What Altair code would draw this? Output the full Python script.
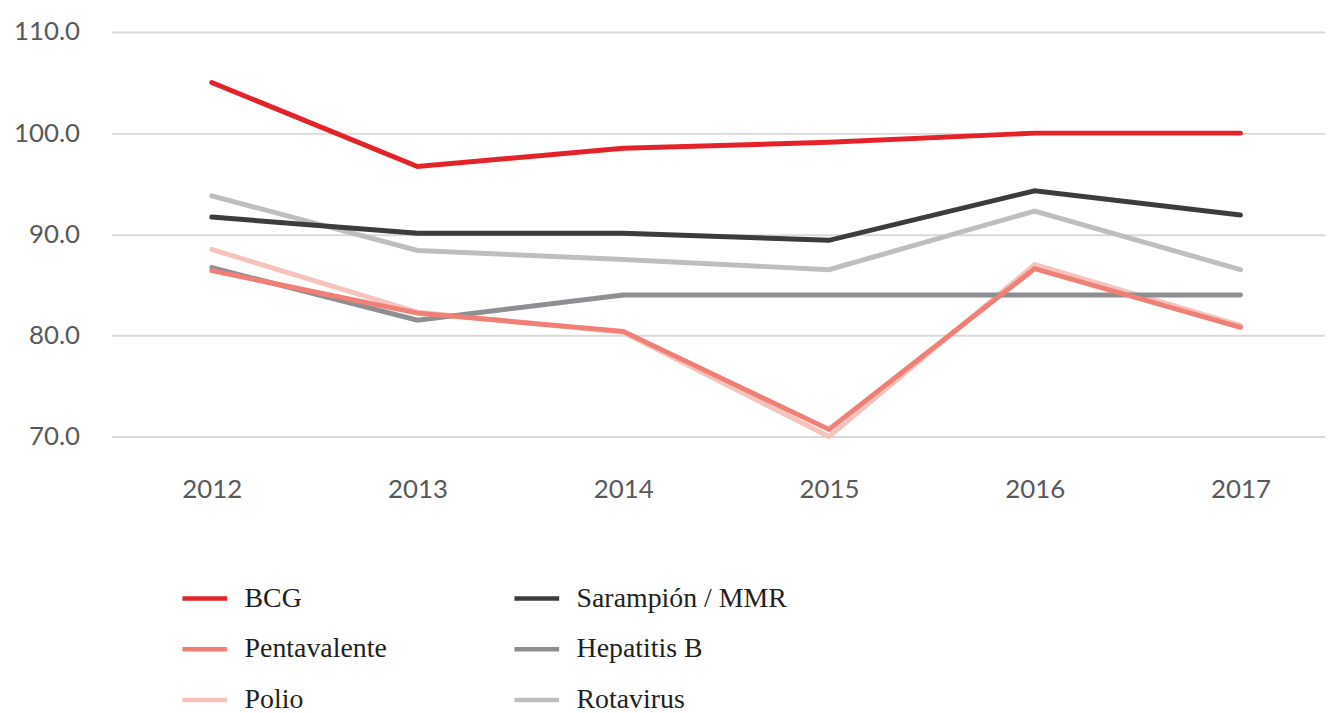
import altair as alt
import pandas as pd

years = [2012, 2013, 2014, 2015, 2016, 2017]
# legend fills column by column: first column BCG, Pentavalente, Polio
series_order = ["BCG", "Pentavalente", "Polio", "Sarampión / MMR", "Hepatitis B", "Rotavirus"]
colors = ["#E52229", "#F07F76", "#F6C2BC", "#3C3C3E", "#8E8E93", "#BEBEBE"]
draw_order = ["Rotavirus", "Polio", "Hepatitis B", "Sarampión / MMR", "BCG", "Pentavalente"]

bcg = [105.0, 96.7, 98.5, 99.1, 100.0, 100.0]
sarampion = [91.7, 90.1, 90.1, 89.4, 94.3, 91.9]
pentavalente = [86.4, 82.2, 80.4, 70.7, 86.6, 80.8]
hepatitis_b = [86.7, 81.5, 84.0, 84.0, 84.0, 84.0]
polio = [88.5, 82.3, 80.3, 70.0, 87.0, 81.0]
rotavirus = [93.8, 88.4, 87.5, 86.5, 92.3, 86.5]

values = {
    "BCG": bcg,
    "Sarampión / MMR": sarampion,
    "Pentavalente": pentavalente,
    "Hepatitis B": hepatitis_b,
    "Polio": polio,
    "Rotavirus": rotavirus,
}

rows = []
for i, s in enumerate(draw_order):
    for y, v in zip(years, values[s]):
        rows.append({"serie": s, "year": y, "value": v, "ord": i})
df = pd.DataFrame(rows)

chart = alt.Chart(df).mark_line(strokeWidth=5, strokeCap="round", clip=False).encode(
    x=alt.X("year:Q", scale=alt.Scale(domain=[2011.512, 2017.411], nice=False, zero=False),
            axis=alt.Axis(title=None, values=years, format="d", labelAngle=0, domain=False, ticks=False,
                          grid=False, labelPadding=40, labelFontSize=26, labelFont="Lato",
                          labelColor="#595959")),
    y=alt.Y("value:Q", scale=alt.Scale(domain=[70, 110], nice=False, zero=False),
            axis=alt.Axis(title=None, values=[70, 80, 90, 100, 110], format=".1f", domain=False, ticks=False,
                          gridColor="#D9D9D9", gridWidth=2, labelPadding=32, labelFontSize=26,
                          labelFont="Lato", labelColor="#595959")),
    color=alt.Color("serie:N", scale=alt.Scale(domain=series_order, range=colors),
                    legend=alt.Legend(title=None, orient="none", legendX=69, legendY=545, columns=2,
                                      symbolType="stroke", symbolSize=2025, symbolStrokeWidth=4.5,
                                      labelFont="Liberation Serif", labelFontSize=28, labelColor="#231F20",
                                      labelOffset=15, columnPadding=118, rowPadding=12, labelLimit=400)),
    detail="serie:N",
    order=alt.Order("ord:Q"),
).properties(
    width=1221, height=407,
    autosize=alt.AutoSizeParams(type="none"),
    padding={"left": 104, "top": 22, "right": 0, "bottom": 276},
).configure_view(stroke=None)

chart.save("out.html", embed_options={"renderer": "svg", "actions": False})
